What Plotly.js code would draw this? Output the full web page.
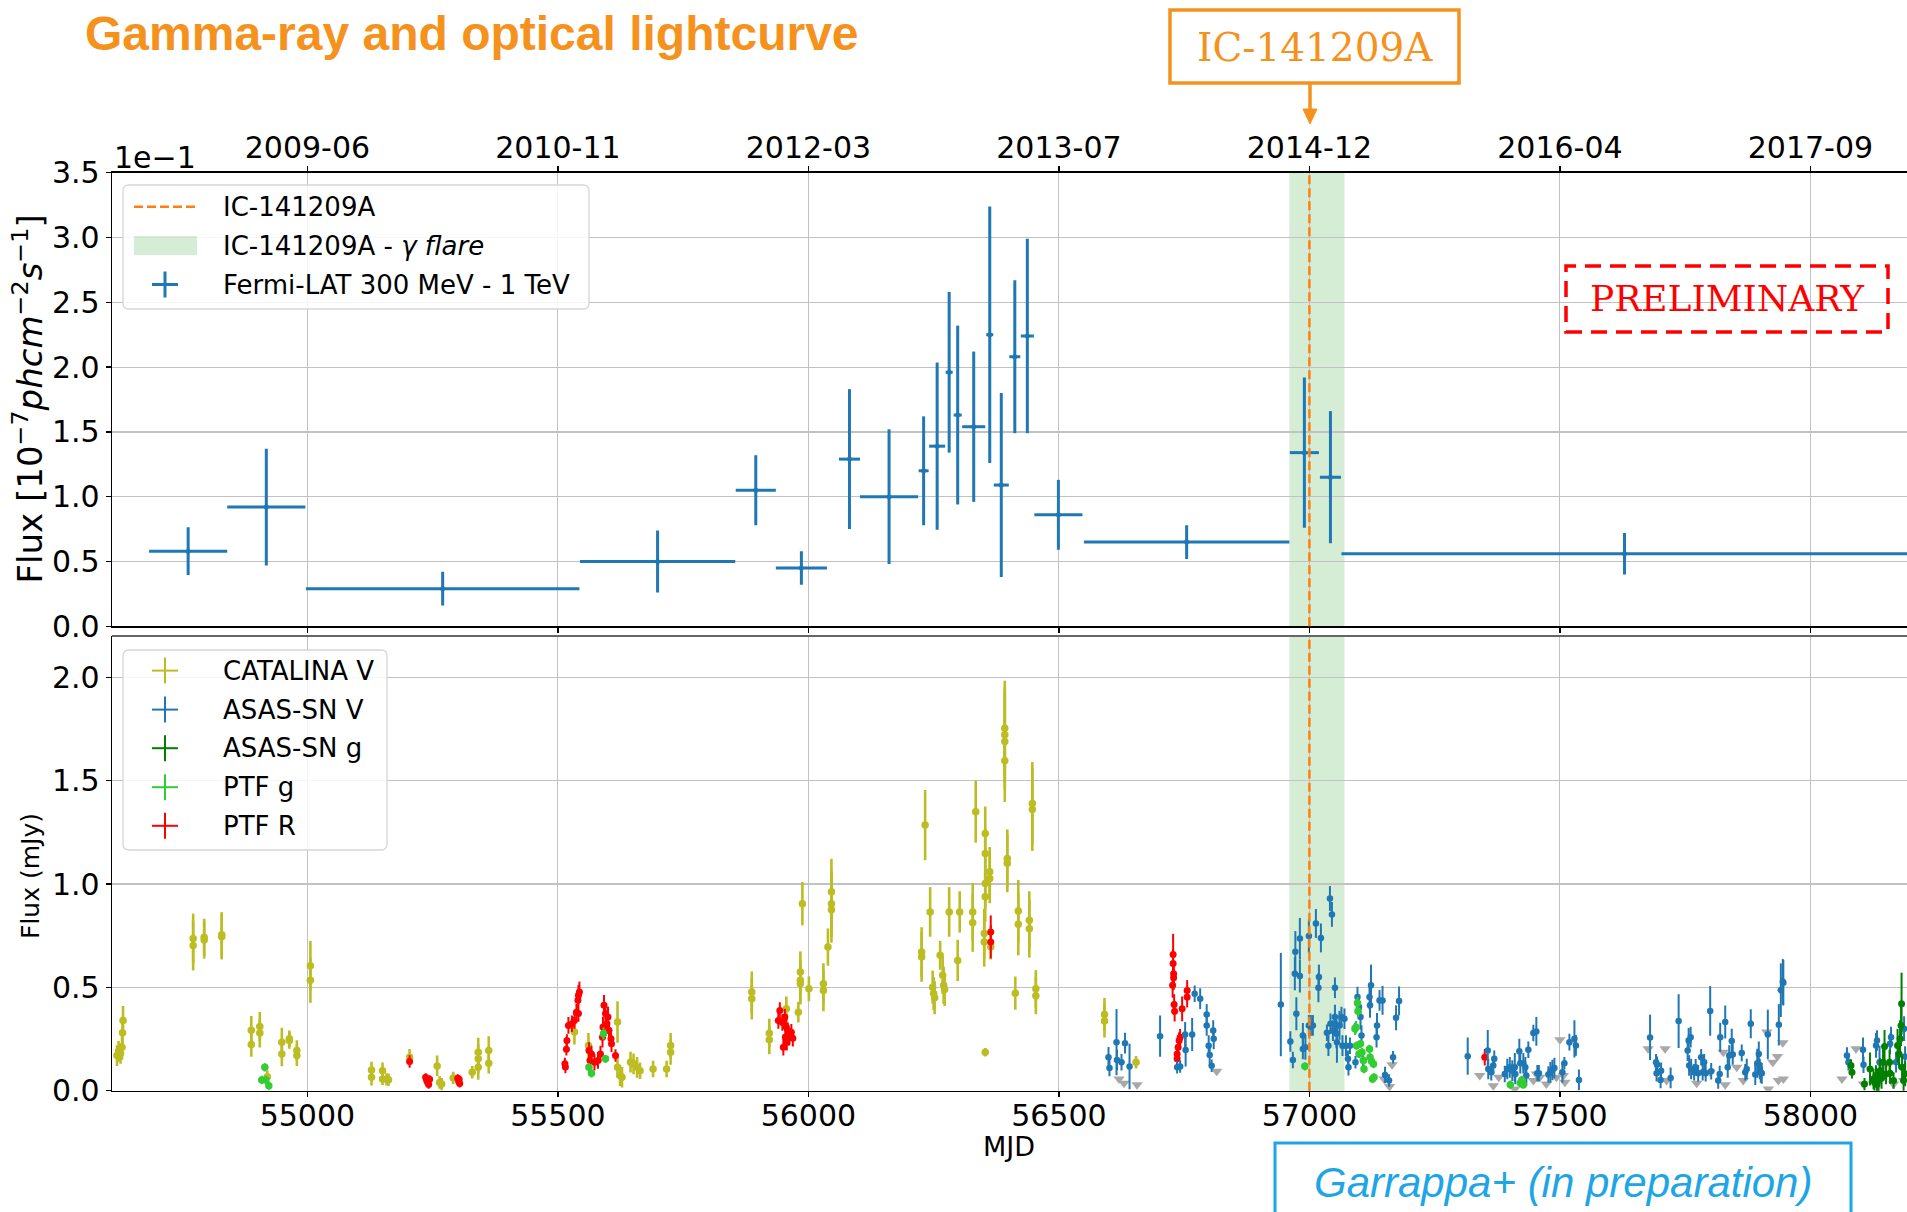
<!DOCTYPE html>
<html>
<head>
<meta charset="utf-8">
<script src="https://cdn.plot.ly/plotly-3.0.1.min.js"></script>
<style>
  html, body { margin: 0; padding: 0; overflow: hidden; background: #fff; }
  #chart { width: 1960px; height: 1212px; }
</style>
</head>
<body>
<div id="chart"></div>
<script>
// ---------------- Fermi-LAT 300 MeV - 1 TeV (units of 1e-7 ph cm^-2 s^-1) ----------------
const fermiMjd  = [54762, 54918, 55270, 55699, 55895, 55986, 56082, 56161, 56230, 56257, 56281,
                   56298, 56330, 56362, 56385, 56412, 56437, 56499, 56755, 56990, 57042, 57629];
const fermiHalf = [78, 78, 273, 155, 40, 51, 21, 58, 10, 16, 7,
                   8, 23, 7, 15, 11, 13, 48, 205, 29, 21, 565];
const fermiFlux = [0.058, 0.092, 0.029, 0.050, 0.105, 0.045, 0.129, 0.100, 0.120, 0.139, 0.196,
                   0.163, 0.154, 0.225, 0.109, 0.208, 0.224, 0.086, 0.065, 0.134, 0.115, 0.056];
const fermiErr  = [0.0185, 0.045, 0.013, 0.024, 0.027, 0.013, 0.054, 0.052, 0.042, 0.0645, 0.062,
                   0.069, 0.058, 0.099, 0.071, 0.059, 0.075, 0.027, 0.013, 0.058, 0.051, 0.016];

// ---------------- CATALINA V (mJy) ----------------
const catMjd = [54620,54623,54627,54630,54631,54632,54772,54772,54794,54794,54829,54829,
  54888,54888,54905,54905,54920,54949,54949,54964,54964,54979,54979,55006,55006,
  55128,55128,55150,55150,55158,55162,55204,55259,55264,55268,55291,55329,
  55341,55341,55341,55362,55362,55533,55561,55619,55619,55624,55628,
  55645,55651,55658,55664,55690,55717,55725,55725,
  55887,55887,55922,55922,55956,55980,55984,55984,55984,55988,56001,56030,56030,56039,
  56046,56046,56046,56226,56226,56233,56243,56248,56250,56252,56263,56268,56270,56272,
  56281,56298,56302,56328,56328,56334,56351,56351,56353,56353,56353,56353,56353,
  56362,56362,56364,56392,56392,56392,56392,56397,56397,56413,56419,56419,56441,56441,
  56447,56447,56454,56454,56591,56591,56654];
const catFlux = [0.17,0.19,0.18,0.21,0.28,0.34,0.737,0.702,0.742,0.729,0.754,0.745,
  0.292,0.224,0.311,0.279,0.068,0.235,0.178,0.251,0.243,0.194,0.17,0.605,0.535,
  0.10,0.065,0.097,0.057,0.055,0.053,0.162,0.12,0.04,0.032,0.062,0.089,
  0.186,0.154,0.113,0.194,0.133,0.284,0.219,0.332,0.113,0.073,0.065,
  0.138,0.13,0.113,0.097,0.105,0.105,0.219,0.186,
  0.477,0.445,0.278,0.246,0.396,0.38,0.574,0.534,0.517,0.905,0.493,0.517,0.485,0.695,
  0.962,0.905,0.876,0.671,0.647,1.285,0.865,0.501,0.47,0.45,0.655,0.558,0.51,0.49,
  0.865,0.63,0.865,0.865,0.812,1.35,0.76,0.72,1.245,1.148,1.002,0.938,0.186,
  1.059,1.027,0.695,1.754,1.722,1.69,1.597,1.124,1.1,0.472,0.87,0.805,0.825,0.784,
  1.39,1.36,0.493,0.46,0.369,0.337,0.138];
const catErr = [0.05,0.05,0.05,0.06,0.07,0.07,0.12,0.12,0.09,0.09,0.11,0.11,
  0.07,0.06,0.07,0.07,0.03,0.07,0.06,0.04,0.04,0.05,0.05,0.12,0.11,
  0.04,0.04,0.04,0.03,0.03,0.03,0.04,0.05,0.03,0.03,0.03,0.03,
  0.07,0.07,0.06,0.07,0.05,0.06,0.06,0.1,0.05,0.05,0.05,
  0.05,0.05,0.05,0.04,0.04,0.04,0.06,0.06,
  0.1,0.1,0.07,0.07,0.06,0.05,0.1,0.1,0.1,0.105,0.06,0.1,0.1,0.09,
  0.16,0.16,0.16,0.12,0.12,0.17,0.12,0.08,0.08,0.08,0.07,0.09,0.09,0.08,
  0.12,0.1,0.1,0.14,0.14,0.15,0.12,0.12,0.13,0.12,0.12,0.12,0.02,
  0.12,0.12,0.06,0.23,0.23,0.23,0.2,0.14,0.14,0.08,0.15,0.15,0.14,0.14,
  0.2,0.2,0.09,0.09,0.08,0.08,0.03];

// ---------------- ASAS-SN V (mJy) ----------------
const asvMjd = [56599,56601,56615,56616,56625,56632,56641,56702,56736,56742,56752,56753,56766,56771,
  56782,56795,56795,56799,56801,56805,56808,56809,
  56943,56962,56967,56971,56972,56974,56981,56981,56987,56987,56992,56999,56999,57003,57007,
  57013,57018,57019,57023,57035,57038,57041,57042,57045,57047,57051,57051,57054,57055,57060,
  57064,57066,57070,57073,57077,57078,57081,57092,57096,57099,57102,57104,57107,57120,57121,
  57123,57134,57135,57140,57146,57151,57159,57167,57173,57179,
  57316,57356,57357,57363,57367,57369,57390,57395,57400,57405,57410,57411,57419,57421,57427,
  57431,57433,57437,57447,57453,57455,57458,57477,57481,57485,57489,57505,57509,57519,57529,
  57532,57538,
  57680,57692,57693,57694,57701,57702,57721,57737,57755,57757,57758,57761,57762,57768,57771,
  57776,57782,57785,57788,57791,57800,57802,57816,57819,57820,57830,57835,57838,57843,57845,
  57863,57870,57873,57881,57890,57894,57897,57899,57901,57903,57915,57937,57941,57945,57946,
  58073,58076,58105,58106,58131,58133,58138,58159,58161,58171,58187,58189];
const asvFlux = [0.162,0.11,0.235,0.149,0.138,0.23,0.117,0.264,0.113,0.117,0.272,0.197,0.272,0.469,
  0.445,0.369,0.316,0.218,0.173,0.121,0.291,0.251,
  0.417,0.238,0.149,0.566,0.672,0.372,0.736,0.555,0.267,0.202,0.21,0.748,0.316,0.316,0.316,
  0.809,0.498,0.55,0.739,0.28,0.218,0.93,0.324,0.853,0.291,0.498,0.356,0.275,0.235,0.316,
  0.356,0.218,0.348,0.218,0.154,0.113,0.218,0.138,0.453,0.405,0.356,0.267,0.146,0.453,0.413,
  0.51,0.259,0.316,0.437,0.437,0.076,0.049,0.162,0.353,0.434,
  0.167,0.194,0.105,0.089,0.122,0.154,0.081,0.105,0.113,0.097,0.113,0.081,0.191,0.133,0.133,
  0.113,0.073,0.198,0.279,0.287,0.084,0.084,0.078,0.089,0.1,0.11,0.089,0.133,0.235,0.251,
  0.219,0.052,
  0.258,0.138,0.084,0.125,0.052,0.097,0.062,0.337,0.194,0.243,0.122,0.259,0.105,0.089,0.113,
  0.084,0.162,0.089,0.138,0.084,0.386,0.094,0.049,0.081,0.259,0.332,0.113,0.17,0.24,0.175,
  0.183,0.089,0.105,0.324,0.078,0.133,0.178,0.105,0.089,0.084,0.272,0.319,0.486,0.527,0.522,
  0.17,0.138,0.198,0.126,0.219,0.243,0.138,0.227,0.259,0.138,0.3,0.165];
const asvErr = [0.05,0.04,0.16,0.05,0.04,0.05,0.11,0.1,0.03,0.03,0.06,0.08,0.08,0.04,
  0.05,0.05,0.05,0.05,0.05,0.03,0.05,0.05,
  0.25,0.05,0.04,0.08,0.1,0.08,0.1,0.08,0.06,0.05,0.06,0.08,0.05,0.05,0.05,
  0.07,0.07,0.06,0.07,0.04,0.05,0.06,0.05,0.06,0.05,0.05,0.06,0.07,0.1,0.07,
  0.05,0.05,0.05,0.05,0.04,0.04,0.04,0.03,0.05,0.05,0.06,0.05,0.05,0.06,0.06,
  0.1,0.05,0.06,0.05,0.07,0.04,0.03,0.03,0.06,0.07,
  0.09,0.1,0.05,0.04,0.04,0.04,0.04,0.05,0.05,0.05,0.07,0.05,0.06,0.05,0.05,
  0.05,0.05,0.04,0.04,0.07,0.04,0.04,0.04,0.05,0.05,0.05,0.05,0.03,0.04,0.09,
  0.05,0.05,
  0.11,0.04,0.04,0.04,0.04,0.04,0.05,0.13,0.05,0.06,0.05,0.05,0.05,0.04,0.04,
  0.04,0.04,0.04,0.04,0.04,0.12,0.04,0.04,0.04,0.07,0.08,0.05,0.05,0.06,0.05,
  0.04,0.04,0.05,0.07,0.05,0.07,0.06,0.05,0.05,0.05,0.12,0.1,0.13,0.11,0.11,
  0.04,0.04,0.06,0.04,0.06,0.05,0.08,0.05,0.05,0.05,0.06,0.05];

// ---------------- ASAS-SN g (mJy) ----------------
const asgMjd = [58081,58083,58108,58119,58126,58128,58131,58133,58136,58139,
  58142,58145,58148,58151,58158,58159,58166,58174,58177,58179,58181,58182,58183,58186,58189];
const asgFlux = [0.122,0.089,0.032,0.105,0.057,0.04,0.073,0.03,0.049,0.097,
  0.06,0.138,0.214,0.081,0.138,0.084,0.049,0.219,0.178,0.251,0.316,0.421,0.113,0.049,0.081];
const asgErr = [0.03,0.03,0.03,0.08,0.05,0.04,0.05,0.04,0.05,0.06,
  0.05,0.08,0.08,0.05,0.06,0.05,0.04,0.08,0.07,0.09,0.1,0.15,0.06,0.05,0.06];

// ---------------- PTF g (mJy) ----------------
const ptfgMjd = [54909,54915,54917,54923,55562,55567,55591,55595,56991,
  57091,57093,57094,57096,57097,57099,57102,57105,57108,57109,
  57120,57121,57124,57126,57128,57129,57401,57421,57424,57427];
const ptfgFlux = [0.052,0.113,0.052,0.024,0.113,0.084,0.276,0.154,0.118,
  0.3,0.307,0.218,0.424,0.385,0.178,0.227,0.186,0.146,0.105,
  0.202,0.162,0.142,0.057,0.129,0.065,0.029,0.037,0.052,0.029];
const ptfgErr = [0.02,0.02,0.02,0.02,0.02,0.02,0.03,0.02,0.02,
  0.03,0.03,0.02,0.03,0.03,0.02,0.02,0.02,0.02,0.02,
  0.02,0.02,0.02,0.02,0.02,0.02,0.02,0.02,0.02,0.02];

// ---------------- PTF R (mJy) ----------------
const ptfrMjd = [55204,55236,55238,55240,55242,55244,55300,55302,55304,55303,
  55514,55515,55517,55518,55521,55528,55533,55537,55540,55541,55543,55541,
  55562,55564,55567,55573,55580,55585,55589,55590,55592,55595,55598,55600,55602,55606,55607,55615,
  55940,55943,55948,55950,55953,55954,55956,55957,55959,55962,55966,55969,
  56364,56364,56727,56728,56728,56729,56729,56730,56731,
  56736,56736,56738,56740,56742,56746,56756,56756,57350];
const ptfrFlux = [0.141,0.065,0.05,0.04,0.03,0.055,0.06,0.045,0.035,0.055,
  0.13,0.115,0.2,0.243,0.316,0.324,0.34,0.38,0.438,0.462,0.478,0.373,
  0.194,0.146,0.178,0.138,0.146,0.178,0.259,0.308,0.413,0.373,0.324,0.357,0.292,0.251,0.227,0.17,
  0.34,0.388,0.33,0.21,0.356,0.26,0.307,0.234,0.29,0.259,0.283,0.254,
  0.768,0.72,0.51,0.659,0.615,0.566,0.547,0.417,0.385,
  0.178,0.154,0.21,0.243,0.259,0.396,0.485,0.453,0.162];
const ptfrErr = [0.03,0.02,0.02,0.02,0.02,0.02,0.02,0.02,0.02,0.02,
  0.03,0.03,0.03,0.03,0.04,0.04,0.04,0.04,0.05,0.05,0.05,0.04,
  0.04,0.04,0.04,0.04,0.04,0.04,0.05,0.05,0.05,0.05,0.05,0.05,0.04,0.04,0.04,0.03,
  0.04,0.04,0.04,0.04,0.04,0.04,0.04,0.04,0.04,0.04,0.04,0.04,
  0.08,0.08,0.06,0.1,0.07,0.06,0.06,0.05,0.05,
  0.04,0.04,0.04,0.04,0.04,0.06,0.05,0.05,0.04];

// ---------------- upper limits (mJy) ----------------
const ulMjd = [56620,56630,56656,56815,57149,57160,57165,57340,57367,57378,57410,57447,57453,57460,
  57473,57493,57500,57507,57510,57676,57710,57713,57773,57800,57826,57830,57853,57866,57913,57916,
  57925,57934,57936,57945,57946,58063,58091,58106,58146,58166,58186];
const ulFlux = [0.057,0.036,0.029,0.094,0.057,0.02,0.126,0.073,0.024,0.065,0.008,0.049,0.081,0.065,
  0.032,0.065,0.246,0.073,0.041,0.203,0.203,0.049,0.036,0.089,0.186,0.029,0.113,0.049,0.284,0.008,
  0.138,0.165,0.049,0.232,0.057,0.057,0.203,0.032,0.113,0.032,0.049];

// ---------------- axis ticks ----------------
const mjdTicks = [55000, 55500, 56000, 56500, 57000, 57500, 58000];
const dateTicks = ['2009-06', '2010-11', '2012-03', '2013-07', '2014-12', '2016-04', '2017-09'];
const fermiTicks = [0, 0.05, 0.10, 0.15, 0.20, 0.25, 0.30, 0.35];
const optTicks = [0, 0.5, 1.0, 1.5, 2.0];

const neutrinoMjd = 57000;          // IC-141209A
const flareWindow = [56960, 57070]; // gamma flare interval

// ---------------- figure geometry (pixels) ----------------
const W = 1960, H = 1212;
const X = v => v / W;
const Y = v => 1 - v / H;
const plotLeft = 112;
const xRange = [54610, 54610 + (W - plotLeft) / 0.501];
const topDom = [Y(626.3), Y(172.7)];
const botDom = [Y(1090.7), Y(636)];

const C = {
  blue: '#1f77b4', olive: '#bcbd22', dgreen: '#008000', lime: '#32cd32',
  red: '#ff0000', gray: '#a8a8a8', orange: '#ff7f0e', title: '#F5921E', note: '#1EA5E6'
};

function optTrace(x, y, e, color, size, ew) {
  return {
    type: 'scatter', mode: 'markers', x: x, y: y, xaxis: 'x', yaxis: 'y2',
    marker: { color: color, size: size, line: { width: 0 } },
    error_y: { type: 'data', array: e, color: color, thickness: ew, width: 0 },
    showlegend: false, hoverinfo: 'skip', cliponaxis: true
  };
}

const traces = [
  {
    type: 'scatter', mode: 'markers', x: ulMjd, y: ulFlux, xaxis: 'x', yaxis: 'y2',
    marker: { color: C.gray, size: 10, symbol: 'triangle-down', line: { width: 0 } },
    showlegend: false, hoverinfo: 'skip'
  },
  optTrace(catMjd, catFlux, catErr, C.olive, 7.5, 2.6),
  optTrace(ptfrMjd, ptfrFlux, ptfrErr, C.red, 7, 2),
  optTrace(asvMjd, asvFlux, asvErr, C.blue, 6.5, 2),
  optTrace(ptfgMjd, ptfgFlux, ptfgErr, C.lime, 7.5, 2),
  optTrace(asgMjd, asgFlux, asgErr, C.dgreen, 7, 2),
  {
    type: 'scatter', mode: 'markers', x: fermiMjd, y: fermiFlux, xaxis: 'x2', yaxis: 'y',
    marker: { color: C.blue, size: 5 },
    error_y: { type: 'data', array: fermiErr, color: C.blue, thickness: 3, width: 0 },
    error_x: { type: 'data', array: fermiHalf, color: C.blue, thickness: 3, width: 0 },
    showlegend: false, hoverinfo: 'skip'
  },
  // carrier for the calendar axis along the top of the gamma-ray panel
  {
    type: 'scatter', mode: 'markers', x: [mjdTicks[0]], y: [0], xaxis: 'x3', yaxis: 'y',
    marker: { opacity: 0 }, showlegend: false, hoverinfo: 'skip'
  }
];

const tickFont = { family: 'DejaVu Sans', size: 30, color: '#000' };
const axisBase = {
  showgrid: true, gridcolor: '#c2c2c2', gridwidth: 1.2, zeroline: false,
  showline: true, linecolor: '#000', linewidth: 1.4,
  ticks: 'outside', ticklen: 5, tickwidth: 1.4, tickcolor: '#000', tickfont: tickFont
};

// rounded legend frame
function roundBox(x0, y0, x1, y1, r) {
  const p = (x, y) => X(x).toFixed(5) + ',' + Y(y).toFixed(5);
  return 'M' + p(x0 + r, y0) + ' L' + p(x1 - r, y0) + ' Q' + p(x1, y0) + ' ' + p(x1, y0 + r) +
         ' L' + p(x1, y1 - r) + ' Q' + p(x1, y1) + ' ' + p(x1 - r, y1) +
         ' L' + p(x0 + r, y1) + ' Q' + p(x0, y1) + ' ' + p(x0, y1 - r) +
         ' L' + p(x0, y0 + r) + ' Q' + p(x0, y0) + ' ' + p(x0 + r, y0) + ' Z';
}
function pline(x0, y0, x1, y1, color, width, dash) {
  return { type: 'line', xref: 'paper', yref: 'paper', x0: X(x0), y0: Y(y0), x1: X(x1), y1: Y(y1),
           line: { color: color, width: width, dash: dash || 'solid' }, layer: 'above' };
}
function cross(cx, cy, arm, color, width) {
  return [pline(cx - arm, cy, cx + arm, cy, color, width), pline(cx, cy - arm, cx, cy + arm, color, width)];
}
function prect(x0, y0, x1, y1, color, width, dash, fill) {
  return { type: 'rect', xref: 'paper', yref: 'paper', x0: X(x0), y0: Y(y1), x1: X(x1), y1: Y(y0),
           line: { color: color, width: width, dash: dash || 'solid' }, fillcolor: fill || 'rgba(0,0,0,0)',
           layer: 'above' };
}

const shapes = [
  // gamma flare band in both panels
  { type: 'rect', xref: 'x2', yref: 'y domain', x0: flareWindow[0], x1: flareWindow[1], y0: 0, y1: 1,
    fillcolor: 'rgba(44,160,44,0.2)', line: { width: 0 }, layer: 'below' },
  { type: 'rect', xref: 'x', yref: 'y2 domain', x0: flareWindow[0], x1: flareWindow[1], y0: 0, y1: 1,
    fillcolor: 'rgba(44,160,44,0.2)', line: { width: 0 }, layer: 'below' },
  // neutrino arrival time
  { type: 'line', xref: 'x2', yref: 'y domain', x0: neutrinoMjd, x1: neutrinoMjd, y0: 0, y1: 1,
    line: { color: C.orange, width: 2.5, dash: '9px,4px' }, layer: 'above' },
  { type: 'line', xref: 'x', yref: 'y2 domain', x0: neutrinoMjd, x1: neutrinoMjd, y0: 0, y1: 1,
    line: { color: C.orange, width: 2.5, dash: '9px,4px' }, layer: 'above' },
  // top frame of the optical panel
  pline(plotLeft, 636, W, 636, '#666', 2),

  // legend frames
  { type: 'path', xref: 'paper', yref: 'paper', path: roundBox(123, 185, 589, 309, 6),
    fillcolor: 'rgba(255,255,255,0.85)', line: { color: '#d6d6d6', width: 1.3 }, layer: 'above' },
  { type: 'path', xref: 'paper', yref: 'paper', path: roundBox(123, 650, 387, 850, 6),
    fillcolor: 'rgba(255,255,255,0.85)', line: { color: '#d6d6d6', width: 1.3 }, layer: 'above' },
  // gamma legend handles
  pline(134, 206.7, 197, 206.7, C.orange, 2.5, '9px,4px'),
  prect(134, 236, 197, 255, 'rgba(0,0,0,0)', 0, 'solid', 'rgba(44,160,44,0.2)'),
  ...cross(165, 284.5, 13, C.blue, 3),
  // optical legend handles
  ...cross(165, 670.6, 13, C.olive, 2),
  ...cross(165, 709.6, 13, C.blue, 2),
  ...cross(165, 748.2, 13, C.dgreen, 2),
  ...cross(165, 787.2, 13, C.lime, 2),
  ...cross(165, 825.8, 13, C.red, 2),

  // neutrino label box and arrow
  prect(1170, 10, 1459, 83, C.title, 3.5, 'solid', '#fff'),
  pline(1310, 83, 1310, 111, C.title, 3.5),
  { type: 'path', xref: 'paper', yref: 'paper',
    path: 'M' + X(1303) + ',' + Y(109) + ' L' + X(1317) + ',' + Y(109) + ' L' + X(1310) + ',' + Y(124) + ' Z',
    fillcolor: C.title, line: { color: C.title, width: 1 }, layer: 'above' },
  // preliminary stamp
  prect(1566, 266, 1888, 332, '#ff0000', 3.5, '16px,9px', 'rgba(0,0,0,0)'),
  // reference box
  prect(1275, 1143, 1851, 1262, C.note, 3, 'solid', 'rgba(0,0,0,0)')
];

function label(text, x, y, size, opts) {
  return Object.assign({
    text: text, xref: 'paper', yref: 'paper', x: X(x), y: Y(y), showarrow: false,
    xanchor: 'left', yanchor: 'middle', font: { family: 'DejaVu Sans', size: size, color: '#000' }
  }, opts || {});
}

const stampFont = 'DejaVu Serif, Liberation Serif, serif';
const annotations = [
  label('<b>Gamma-ray and optical lightcurve</b>', 83, 34, 48,
        { font: { family: 'Liberation Sans, Arial, sans-serif', size: 48, color: C.title } }),
  label('IC-141209A', 1314.5, 47, 39,
        { xanchor: 'center', font: { family: stampFont, size: 39, color: C.title } }),
  label('PRELIMINARY', 1727, 299, 36,
        { xanchor: 'center', font: { family: stampFont, size: 36, color: '#ff0000' } }),
  label('<i>Garrappa+ (in preparation)</i>', 1563, 1182, 42,
        { xanchor: 'center', font: { family: 'Liberation Sans, Arial, sans-serif', size: 42, color: C.note } }),
  label('1e\u22121', 112, 177, 30, { yanchor: 'bottom' }),
  label('Flux [10<sup>\u22127</sup><i>phcm</i><sup>\u22122</sup><i>s</i><sup>\u22121</sup>]', 27, 399.5, 34,
        { xanchor: 'center', textangle: -90 }),
  label('Flux (mJy)', 30, 876, 25, { xanchor: 'center', textangle: -90 }),
  label('MJD', 1008.5, 1146, 27, { xanchor: 'center' }),
  // gamma legend labels
  label('IC-141209A', 221, 206.7, 26),
  label('IC-141209A - <i>\u03b3 flare</i>', 221, 245.5, 26),
  label('Fermi-LAT 300 MeV - 1 TeV', 221, 284.5, 26),
  // optical legend labels
  label('CATALINA V', 221, 670.6, 26),
  label('ASAS-SN V', 221, 709.6, 26),
  label('ASAS-SN g', 221, 748.2, 26),
  label('PTF g', 221, 787.2, 26),
  label('PTF R', 221, 825.8, 26)
];

const layout = {
  width: W, height: H,
  margin: { l: 0, r: 0, t: 0, b: 0, pad: 0 },
  paper_bgcolor: '#fff', plot_bgcolor: '#fff',
  font: { family: 'DejaVu Sans', size: 26, color: '#000' },
  showlegend: false,
  xaxis: Object.assign({}, axisBase, {
    domain: [X(plotLeft), 1], range: xRange, anchor: 'y2',
    tickmode: 'array', tickvals: mjdTicks, ticktext: mjdTicks.map(String), ticklabelstandoff: -7
  }),
  xaxis2: Object.assign({}, axisBase, {
    domain: [X(plotLeft), 1], range: xRange, anchor: 'y',
    tickmode: 'array', tickvals: mjdTicks, showticklabels: false
  }),
  xaxis3: Object.assign({}, axisBase, {
    overlaying: 'x2', side: 'top', anchor: 'y', range: xRange, showgrid: false,
    tickmode: 'array', tickvals: mjdTicks, ticktext: dateTicks, ticklabelstandoff: -4
  }),
  yaxis: Object.assign({}, axisBase, {
    domain: topDom, range: [0, 0.35], anchor: 'x2',
    tickmode: 'array', tickvals: fermiTicks, ticktext: fermiTicks.map(v => (v * 10).toFixed(1))
  }),
  yaxis2: Object.assign({}, axisBase, {
    domain: botDom, range: [0, 2.2], anchor: 'x',
    tickmode: 'array', tickvals: optTicks, ticktext: optTicks.map(v => v.toFixed(1))
  }),
  shapes: shapes,
  annotations: annotations
};

Plotly.newPlot('chart', traces, layout, { staticPlot: true, displayModeBar: false });
</script>
</body>
</html>
